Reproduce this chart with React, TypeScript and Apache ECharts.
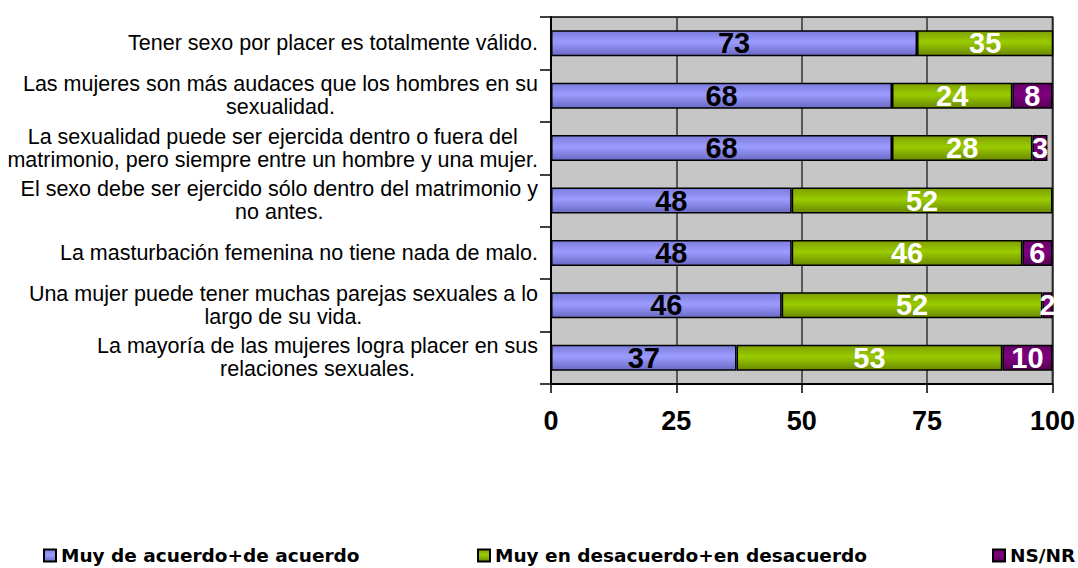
import React, { useEffect, useRef } from "react";
import * as echarts from "echarts";

const categories: string[] = [
  "Tener sexo por placer es totalmente válido.",
  "Las mujeres son más audaces que los hombres en su\nsexualidad.",
  "La sexualidad puede ser ejercida dentro o fuera del\nmatrimonio, pero siempre entre un hombre y una mujer.",
  "El sexo debe ser ejercido sólo dentro del matrimonio y\nno antes.",
  "La masturbación femenina no tiene nada de malo.",
  "Una mujer puede tener muchas parejas sexuales a lo\nlargo de su vida.",
  "La mayoría de las mujeres logra placer en sus\nrelaciones sexuales.",
];

const seriesNames: string[] = [
  "Muy de acuerdo+de acuerdo",
  "Muy en desacuerdo+en desacuerdo",
  "NS/NR",
];

const acuerdo: number[] = [73, 68, 68, 48, 48, 46, 37];
const desacuerdo: number[] = [35, 24, 28, 52, 46, 52, 53];
const nsnr: number[] = [1, 8, 3, 1, 6, 2, 10];

const xTicks: number[] = [0, 25, 50, 75, 100];

const FONT = "Arial, 'Liberation Sans', sans-serif";
const LEGEND_FONT = "'DejaVu Sans', Verdana, sans-serif";

function grad(top: string, mid: string, bottom: string) {
  return new echarts.graphic.LinearGradient(0, 0, 0, 1, [
    { offset: 0, color: top },
    { offset: 0.45, color: mid },
    { offset: 1, color: bottom },
  ]);
}

export default function App() {
  const ref = useRef<HTMLDivElement>(null);

  useEffect(() => {
    document.body.style.margin = "0";
    if (!ref.current) return;
    const chart = echarts.init(ref.current, null, { renderer: "svg" });

    const labelBase = {
      show: true,
      position: "inside",
      fontFamily: FONT,
      fontWeight: "bold",
      fontSize: 29,
    };

    const fills = [
      grad("#7c7cdc", "#9c9cff", "#6a6ac4"),
      grad("#7e9f00", "#99cc00", "#6a8800"),
      grad("#660066", "#800080", "#550055"),
    ];
    const labelColors = ["#000", "#fff", "#fff"];
    const datasets = [acuerdo, desacuerdo, nsnr];

    const option: any = {
      animation: false,
      backgroundColor: "#fff",
      grid: {
        left: 551,
        right: 23,
        top: 17,
        bottom: 184,
        show: true,
        backgroundColor: "#c6c6c6",
        borderColor: "#000",
        borderWidth: 1.5,
      },
      legend: seriesNames.map((n, i) => ({
        data: [n],
        left: [43, 477, 992][i],
        top: 546,
        padding: 0,
        itemWidth: 12,
        itemHeight: 12,
        itemGap: 0,
        icon: "rect",
        textStyle: {
          fontFamily: LEGEND_FONT,
          fontWeight: "bold",
          fontSize: 18.5,
          color: "#000",
        },
      })),
      xAxis: {
        type: "value",
        min: xTicks[0],
        max: xTicks[xTicks.length - 1],
        interval: xTicks[1] - xTicks[0],
        axisLine: { show: true, lineStyle: { color: "#000", width: 2 } },
        axisTick: { show: true, length: 9, lineStyle: { color: "#000", width: 1.5 } },
        axisLabel: {
          margin: 23,
          fontFamily: FONT,
          fontWeight: "bold",
          fontSize: 27,
          color: "#000",
        },
        splitLine: { show: true, lineStyle: { color: "#333", width: 1.5 } },
      },
      yAxis: {
        type: "category",
        inverse: true,
        data: categories,
        axisLine: { show: true, lineStyle: { color: "#000", width: 2 } },
        axisTick: { show: true, length: 11, lineStyle: { color: "#000", width: 1.5 } },
        axisLabel: {
          interval: 0,
          margin: 13,
          align: "right",
          formatter: (v: string) =>
            v
              .split("\n")
              .map((l) => `{c|${l}}`)
              .join("\n"),
          rich: {
            c: {
              align: "center",
              fontFamily: FONT,
              fontSize: 21.5,
              lineHeight: 23,
              color: "#000",
            },
          },
        },
        splitLine: { show: false },
      },
      series: seriesNames.map((name, i) => ({
        name,
        type: "bar",
        stack: "total",
        barWidth: 26,
        clip: true,
        data: datasets[i],
        itemStyle: {
          color: fills[i],
          borderColor: "#000",
          borderWidth: 1.5,
        },
        label: { ...labelBase, color: labelColors[i] },
      })),
    };

    chart.setOption(option);
    return () => chart.dispose();
  }, []);

  return <div ref={ref} style={{ width: 1078, height: 568 }} />;
}
